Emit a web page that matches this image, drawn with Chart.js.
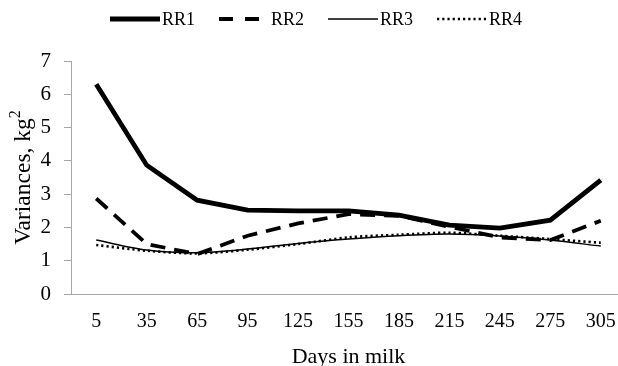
<!DOCTYPE html>
<html>
<head>
<meta charset="utf-8">
<script src="https://cdn.jsdelivr.net/npm/chart.js@4"></script>
<style>
  html, body { margin: 0; padding: 0; background: #fff; overflow: hidden; }
  #wrap { width: 630px; height: 366px; }
</style>
</head>
<body>
<div id="wrap"><canvas id="myChart"></canvas></div>
<script>
// data
const days = ['5', '35', '65', '95', '125', '155', '185', '215', '245', '275', '305'];
const rr1 = [6.3, 3.87, 2.82, 2.52, 2.5, 2.5, 2.37, 2.07, 1.98, 2.22, 3.42];
const rr2 = [2.87, 1.5, 1.2, 1.75, 2.12, 2.4, 2.35, 2.02, 1.7, 1.62, 2.2];
const rr3 = [1.62, 1.32, 1.24, 1.35, 1.52, 1.65, 1.75, 1.8, 1.74, 1.62, 1.44];
const rr4 = [1.47, 1.3, 1.22, 1.33, 1.5, 1.7, 1.78, 1.84, 1.75, 1.65, 1.54];
const yTicks = [0, 1, 2, 3, 4, 5, 6, 7];

const serif = "'Liberation Serif', 'Times New Roman', serif";

// legend drawn by hand: line sample then label, like the original
const lineLegend = {
  id: 'lineLegend',
  afterDraw(chart) {
    const c = chart.ctx;
    let x = 110;
    const y = 19;
    c.save();
    c.font = '18px ' + serif;
    c.textBaseline = 'middle';
    c.fillStyle = '#000';
    chart.data.datasets.forEach(ds => {
      c.beginPath();
      c.lineWidth = ds.borderWidth;
      c.strokeStyle = ds.borderColor;
      c.setLineDash(ds.legendDash || ds.borderDash || []);
      c.moveTo(x, y);
      c.lineTo(x + 50, y);
      c.stroke();
      c.fillText(ds.label, x + 52, y + 1);
      x += 52 + c.measureText(ds.label).width + 24;
    });
    c.restore();
  }
};

// y axis title with a raised "2"
const yTitle = {
  id: 'yTitle',
  afterDraw(chart) {
    const c = chart.ctx;
    const main = 'Variances, kg';
    const area = chart.chartArea;
    c.save();
    c.translate(24, (area.top + area.bottom) / 2);
    c.rotate(-Math.PI / 2);
    c.fillStyle = '#000';
    c.textBaseline = 'middle';
    c.font = '23.5px ' + serif;
    const w = c.measureText(main).width;
    c.font = '16px ' + serif;
    const w2 = c.measureText('2').width;
    const x0 = -(w + w2) / 2;
    c.font = '23.5px ' + serif;
    c.fillText(main, x0, 0);
    c.font = '16px ' + serif;
    c.fillText('2', x0 + w, -8);
    c.restore();
  }
};

const ctx = document.getElementById('myChart');

new Chart(ctx, {
  type: 'line',
  data: {
    labels: days,
    datasets: [
      { label: 'RR1', data: rr1, borderColor: '#000', borderWidth: 4.8 },
      { label: 'RR2', data: rr2, borderColor: '#000', borderWidth: 3.8, borderDash: [15, 9], legendDash: [14, 12] },
      { label: 'RR3', data: rr3, borderColor: '#000', borderWidth: 1.5, tension: 0.3 },
      { label: 'RR4', data: rr4, borderColor: '#000', borderWidth: 2.6, borderDash: [2.2, 3], tension: 0.3 }
    ]
  },
  options: {
    responsive: true,
    maintainAspectRatio: false,
    animation: false,
    devicePixelRatio: 1,
    elements: { point: { radius: 0 }, line: { borderCapStyle: 'butt', fill: false } },
    layout: { padding: { left: 0, right: 4, top: 61, bottom: -4 } },
    plugins: {
      tooltip: { enabled: false },
      legend: { display: false }
    },
    scales: {
      x: {
        offset: true,
        grid: { display: false },
        border: { display: true, color: '#a6a6a6', width: 1 },
        ticks: { color: '#000', padding: 8, maxRotation: 0, font: { family: serif, size: 20 } },
        title: { display: true, text: 'Days in milk', color: '#000', padding: { top: 0, bottom: 0 }, font: { family: serif, size: 22 } },
        afterFit(scale) { scale.height = 76; }
      },
      y: {
        min: 0,
        max: 7,
        afterBuildTicks(scale) { scale.ticks = yTicks.map(v => ({ value: v })); },
        grid: { drawOnChartArea: false, drawTicks: true, tickLength: 7, color: '#a6a6a6' },
        border: { display: true, color: '#a6a6a6', width: 1 },
        ticks: { color: '#000', padding: 13, font: { family: serif, size: 21 } },
        afterFit(scale) { scale.width = 71; }
      }
    }
  },
  plugins: [lineLegend, yTitle]
});
</script>
</body>
</html>
